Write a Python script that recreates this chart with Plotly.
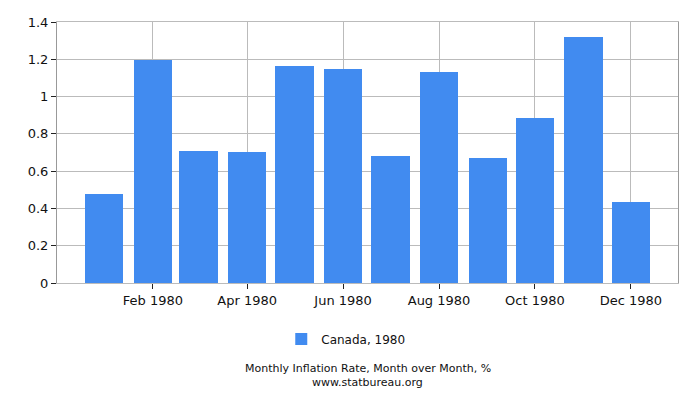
import plotly.graph_objects as go

months = ["1980-01-01", "1980-02-01", "1980-03-01", "1980-04-01", "1980-05-01", "1980-06-01",
          "1980-07-01", "1980-08-01", "1980-09-01", "1980-10-01", "1980-11-01", "1980-12-01"]
inflation = [0.479, 1.198, 0.710, 0.704, 1.166, 1.150, 0.683, 1.130, 0.672, 0.887, 1.321, 0.436]
series_name = "Canada, 1980"
title_lines = ["Monthly Inflation Rate, Month over Month, %", "www.statbureau.org"]

DAY_MS = 86400000

fig = go.Figure(
    go.Bar(
        x=months,
        y=inflation,
        name=series_name,
        marker=dict(color="#418BF0", line=dict(width=0)),
        width=24.5 * DAY_MS,
        showlegend=True,
    )
)

axis_font = dict(family="DejaVu Sans", size=13, color="#111")

fig.update_layout(
    width=700,
    height=400,
    paper_bgcolor="white",
    plot_bgcolor="white",
    margin=dict(l=57, r=22, t=22, b=117),
    font=axis_font,
    bargap=0,
    xaxis=dict(
        type="date",
        range=["1979-12-02", "1980-12-31"],
        tick0="1980-02-01",
        dtick="M2",
        tickformat="%b %Y",
        ticks="outside",
        ticklen=5,
        tickcolor="#222",
        showgrid=True,
        gridcolor="#bbbbbb",
        showline=True,
        linecolor="#bbbbbb",
        mirror=True,
        zeroline=False,
    ),
    yaxis=dict(
        range=[0, 1.4],
        dtick=0.2,
        tickformat="~g",
        ticks="outside",
        ticklen=5,
        tickcolor="#222",
        showgrid=True,
        gridcolor="#bbbbbb",
        showline=True,
        linecolor="#999999",
        mirror=True,
        zeroline=False,
    ),
    legend=dict(
        orientation="h",
        x=0.465,
        xanchor="center",
        y=-0.215,
        yanchor="middle",
        font=dict(family="DejaVu Sans", size=12, color="#111"),
    ),
    annotations=[
        dict(
            text=line,
            x=0.5,
            y=ypos,
            xref="paper",
            yref="paper",
            xanchor="center",
            yanchor="middle",
            showarrow=False,
            font=dict(family="DejaVu Sans", size=11, color="#111"),
        )
        for line, ypos in zip(title_lines, [-0.328, -0.38])
    ],
)

# drop the default body margin so the 700x400 figure fills the window
fig.write_html(
    "out.html",
    config={"displayModeBar": False},
    post_script="document.body.style.margin='0';",
)
